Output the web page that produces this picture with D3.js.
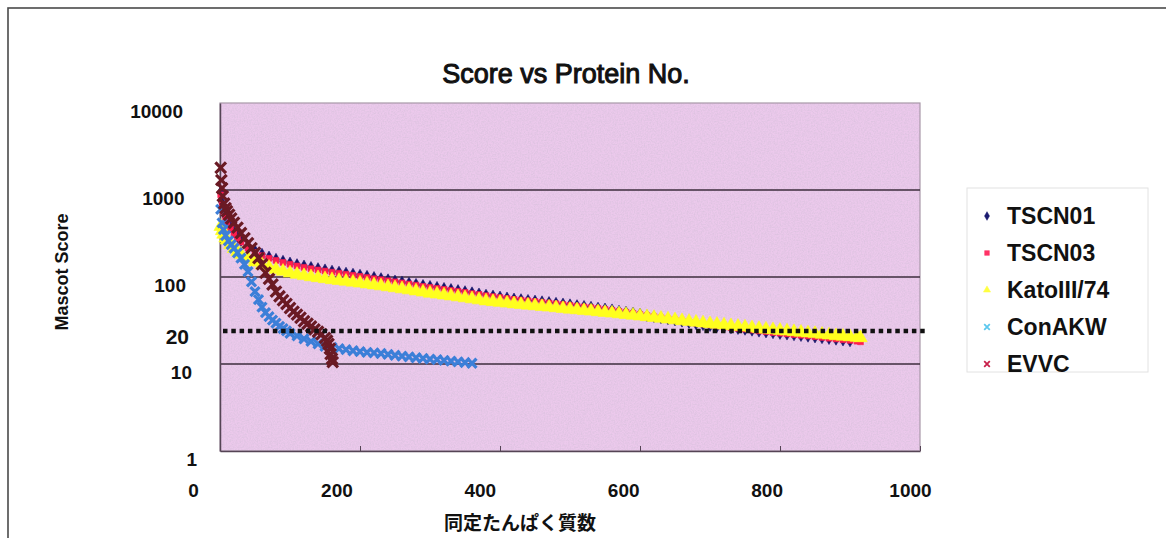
<!DOCTYPE html>
<html>
<head>
<meta charset="utf-8">
<script src="https://cdn.jsdelivr.net/npm/d3@7"></script>
<style>
  body { margin: 0; background: #fff; }
  text { font-family: "Liberation Sans", Arial, sans-serif; }
</style>
</head>
<body>
<div id="chart"></div>
<script>
// ranks shared by the three long series
const ranksLong = [1, 3, 5, 8, 10, 15, 20, 25, 30, 40, 50, 60, 70, 80, 90, 100, 110, 120, 130, 140, 150,
  160, 170, 180, 190, 200, 210, 220, 230, 240, 250, 260, 270, 280, 290, 300, 310, 320, 330, 340, 350,
  360, 370, 380, 390, 400, 410, 420, 430, 440, 450, 460, 470, 480, 490, 500, 510, 520, 530, 540, 550,
  560, 570, 580, 590, 600, 610, 620, 630, 640, 650, 660, 670, 680, 690, 700, 710, 720, 730, 740, 750,
  760, 770, 780, 790, 800, 810, 820, 830, 840, 850, 860, 870, 880, 890, 900, 910, 915];

const tscn01 = [950, 720, 600, 500, 450, 380, 330, 290, 262, 225, 200, 183, 170, 160, 152, 145, 139, 134, 129, 125, 121,
  117, 114, 111, 108, 105, 102, 99, 96, 93, 90, 87.5, 85, 82.5, 80, 78, 76, 74, 72, 70, 68,
  66, 64, 62, 60.5, 59, 57.5, 56, 55, 54, 53, 52, 51, 50, 49, 48, 47, 46, 45, 44, 43,
  42, 40.5, 39.5, 38.5, 37.5, 36, 35, 34, 33, 32, 31, 30, 29, 28.3, 27.6, 27, 26.5, 26, 25.5, 25,
  24.4, 23.8, 23.3, 22.8, 22.4, 22, 21.6, 21.2, 20.8, 20.4, 20, 19.6, 19.2, 18.8, 18.4];

const tscn03 = [880, 680, 570, 480, 430, 360, 315, 280, 252, 215, 192, 176, 164, 155, 147, 140, 134, 129, 124.5, 120.5, 117,
  113.5, 110.5, 107.5, 104.5, 101.5, 98.5, 95.5, 93, 90.5, 88, 85.5, 83, 80.5, 78, 76, 74, 72, 70, 68.5, 66.5,
  64.5, 63, 61, 59.5, 58, 56.5, 55.3, 54.2, 53.2, 52.2, 51.2, 50.2, 49.2, 48.2, 47.2, 46.2, 45.3, 44.4, 43.5, 42.5,
  41.5, 40.3, 39.3, 38.3, 37.2, 36, 35, 34, 33, 32.2, 31.3, 30.4, 29.5, 28.8, 28.1, 27.4, 26.8, 26.2, 25.7, 25.2,
  24.6, 24, 23.5, 23, 22.6, 22.2, 21.8, 21.4, 21, 20.6, 20.2, 19.8, 19.4, 19, 18.7, 18.3, 18];

const kato = [380, 340, 310, 280, 265, 235, 212, 195, 182, 162, 148, 137, 129, 122, 116, 111, 107, 103.5, 100.5, 98, 95.5,
  93, 91, 89, 87, 85, 83, 81, 79, 77, 75, 73, 71, 69, 67, 65, 63.5, 62, 60.5, 59, 57.5,
  56, 54.5, 53, 52, 51, 50, 49, 48.2, 47.4, 46.6, 45.8, 45, 44.2, 43.4, 42.6, 41.9, 41.2, 40.5, 39.8, 39.1,
  38.4, 37.7, 37, 36.3, 35.6, 34.9, 34.2, 33.5, 32.8, 32.1, 31.4, 30.8, 30.2, 29.6, 29, 28.5, 28, 27.5, 27, 26.5,
  26, 25.5, 25.1, 24.7, 24.3, 23.9, 23.5, 23.1, 22.7, 22.3, 21.9, 21.5, 21.1, 20.8, 20.5, 20.2, 20];

const ranksConAKW = [1, 3, 5, 8, 12, 16, 20, 25, 30, 35, 40, 45, 50, 55, 60, 65, 70, 75, 80, 85, 90, 95, 100,
  110, 120, 130, 140, 150, 160, 170, 180, 190, 200, 210, 220, 230, 240, 250, 260, 270, 280, 290, 300,
  310, 320, 330, 340, 350, 360];
const conAKW = [600, 420, 350, 300, 260, 235, 215, 190, 165, 140, 115, 88, 68, 55, 45, 39, 35, 32, 29.5, 27, 25.5, 24, 22.5,
  21, 19.5, 18.2, 17, 16, 15.5, 15, 14.6, 14.2, 13.9, 13.6, 13.4, 13.2, 12.9, 12.6, 12.3, 12.1, 11.8, 11.6, 11.4,
  11.2, 11, 10.8, 10.6, 10.4, 10.2];

const ranksEVVC = [1, 2, 3, 4, 6, 8, 10, 13, 16, 20, 25, 30, 35, 40, 45, 50, 55, 60, 65, 70, 75, 80, 85, 90,
  95, 100, 105, 110, 115, 120, 125, 130, 135, 140, 145, 150, 153, 155, 157, 158, 160, 161];
const evvc = [1800, 1300, 1050, 850, 700, 620, 570, 520, 470, 420, 370, 320, 280, 245, 215, 190, 165, 140, 112, 95, 82, 68, 60, 54,
  49, 44, 40, 37, 34, 31, 29, 27, 25, 23.5, 22, 20, 18.5, 17, 15, 13, 11.5, 10.5];

const seriesNames = ["TSCN01", "TSCN03", "KatoIII/74", "ConAKW", "EVVC"];
const yTicks = [1, 10, 100, 1000, 10000];
const xTicks = [0, 200, 400, 600, 800, 1000];
const cutoff = 24;        // where the dotted threshold line sits
const cutoffLabel = "20";

// styles
const styles = {
  "TSCN01":     { color: "#15156a", legend: "#1a1a70", shape: d3.symbolDiamond, size: 40 },
  "TSCN03":     { color: "#ff1f4f", legend: "#ff3366", shape: d3.symbolSquare, size: 34 },
  "KatoIII/74": { color: "#ffff1e", legend: "#ffff40", shape: d3.symbolTriangle, size: 80 },
  "ConAKW":     { color: "#3c7fd8", legend: "#5cc8ee", shape: d3.symbolX, size: 55 },
  "EVVC":       { color: "#6a1a24", legend: "#c8204a", shape: d3.symbolX, size: 75 }
};

const seriesData = [
  { name: "TSCN01", ranks: ranksLong, values: tscn01 },
  { name: "TSCN03", ranks: ranksLong, values: tscn03 },
  { name: "KatoIII/74", ranks: ranksLong, values: kato },
  { name: "ConAKW", ranks: ranksConAKW, values: conAKW },
  { name: "EVVC", ranks: ranksEVVC, values: evvc }
];

const W = 1166, H = 538;
const plot = { left: 220, right: 920, top: 103, bottom: 451 };

const svg = d3.select("#chart").append("svg")
  .attr("width", W).attr("height", H);

// grainy paper look of the scanned plot area
const defs = svg.append("defs");
const grain = defs.append("filter").attr("id", "grain").attr("x", 0).attr("y", 0).attr("width", 1).attr("height", 1);
grain.append("feTurbulence").attr("type", "fractalNoise").attr("baseFrequency", 0.7).attr("numOctaves", 2).attr("seed", 4).attr("result", "n");
grain.append("feColorMatrix").attr("in", "n").attr("type", "matrix")
  .attr("values", "0 0 0 0 0.6  0 0 0 0 0.5  0 0 0 0 0.65  0.9 0 0 0 -0.3");

// outer frame (runs off the right and bottom of the picture)
svg.append("rect")
  .attr("x", 8).attr("y", 8)
  .attr("width", W).attr("height", H)
  .attr("fill", "#fff").attr("stroke", "#4a4a4a").attr("stroke-width", 1.6);

const x = d3.scaleLinear().domain([0, 1000]).range([plot.left, plot.right]);
const y = d3.scaleLog().domain([1, 10000]).range([plot.bottom, plot.top]);

// plot background
svg.append("rect")
  .attr("x", plot.left).attr("y", plot.top)
  .attr("width", plot.right - plot.left).attr("height", plot.bottom - plot.top)
  .attr("fill", "#ecc9ec");
svg.append("rect")
  .attr("x", plot.left).attr("y", plot.top)
  .attr("width", plot.right - plot.left).attr("height", plot.bottom - plot.top)
  .attr("fill", "#fff").attr("filter", "url(#grain)");
svg.append("rect")
  .attr("x", plot.left).attr("y", plot.top)
  .attr("width", plot.right - plot.left).attr("height", plot.bottom - plot.top)
  .attr("fill", "none").attr("stroke", "#a898a8").attr("stroke-width", 1.2);

// gridlines
svg.append("g").selectAll("line")
  .data(yTicks.filter(d => d > 1 && d < 10000))
  .join("line")
  .attr("x1", plot.left).attr("x2", plot.right)
  .attr("y1", d => y(d)).attr("y2", d => y(d))
  .attr("stroke", "#3d2d3d").attr("stroke-width", 1.3);

// axes
const xAxis = svg.append("g")
  .attr("transform", `translate(0,${plot.bottom})`)
  .call(d3.axisBottom(x).tickValues(xTicks).tickSize(-5).tickSizeOuter(0).tickFormat(d3.format("d")));
xAxis.select(".domain").attr("stroke", "#554455").attr("stroke-width", 1.5);
xAxis.selectAll(".tick line").attr("stroke", "#554455");
// the scanned labels sit a little to the left of their ticks
xAxis.selectAll(".tick text")
  .attr("y", 33).attr("x", d => -27 + d * 0.017).attr("fill", "#111")
  .style("font-size", "19px").style("font-weight", "bold");

const yAxis = svg.append("g")
  .attr("transform", `translate(${plot.left},0)`)
  .call(d3.axisLeft(y).tickValues(yTicks).tickSize(0).tickSizeOuter(0).tickFormat(d3.format("d")));
yAxis.select(".domain").attr("stroke", "#554455").attr("stroke-width", 1.5);
yAxis.selectAll(".tick text")
  .attr("x", d => d === 1 ? -23 : d === 10 ? -28 : -31 - Math.log10(d) * 1.5)
  .attr("dy", "0.32em").attr("transform", "translate(0,8)")
  .attr("fill", "#111")
  .style("font-size", "19px").style("font-weight", "bold");

// data points
seriesData.forEach(s => {
  const st = styles[s.name];
  const pts = s.values.map((v, i) => [s.ranks[i], v]);
  svg.append("g").selectAll("path")
    .data(pts)
    .join("path")
    .attr("transform", d => `translate(${x(d[0])},${y(d[1])})`)
    .attr("d", d3.symbol().type(st.shape).size(st.size))
    .attr("fill", st.shape === d3.symbolX ? "none" : st.color)
    .attr("stroke", st.color)
    .attr("stroke-width", st.shape === d3.symbolX ? 3.2 : 0.6);
});

// threshold line
svg.append("line")
  .attr("x1", plot.left + 3).attr("x2", plot.right + 6)
  .attr("y1", y(cutoff)).attr("y2", y(cutoff))
  .attr("stroke", "#111").attr("stroke-width", 4.5)
  .attr("stroke-dasharray", "4.5,3.8");

svg.append("text")
  .attr("x", 189).attr("y", y(cutoff) + 6)
  .attr("text-anchor", "end").attr("dy", "0.35em")
  .style("font-size", "21px").style("font-weight", "bold").attr("fill", "#111")
  .text(cutoffLabel);

// titles
svg.append("text")
  .attr("x", 566).attr("y", 83)
  .attr("text-anchor", "middle")
  .style("font-size", "27px").attr("fill", "#111")
  .attr("stroke", "#111").attr("stroke-width", 1)
  .text("Score vs Protein No.");

svg.append("text")
  .attr("x", 62).attr("y", 272)
  .attr("transform", "rotate(-90,62,272)")
  .attr("text-anchor", "middle").attr("dy", "0.35em")
  .style("font-size", "18px").style("font-weight", "bold").attr("fill", "#111")
  .text("Mascot Score");

svg.append("text")
  .attr("x", 520).attr("y", 530)
  .attr("text-anchor", "middle")
  .style("font-family", "'Noto Sans CJK JP', sans-serif")
  .style("font-size", "19px").style("font-weight", "bold").attr("fill", "#111")
  .text("同定たんぱく質数");

// legend
const legend = svg.append("g");
legend.append("rect")
  .attr("x", 967).attr("y", 188).attr("width", 181).attr("height", 184)
  .attr("fill", "#fff").attr("stroke", "#e2e2e2").attr("stroke-width", 1);

const legendItems = legend.selectAll("g.item")
  .data(seriesNames)
  .join("g")
  .attr("class", "item")
  .attr("transform", (d, i) => `translate(987,${216 + i * 37})`);

legendItems.append("path")
  .attr("d", d => d3.symbol().type(styles[d].shape).size(22)())
  .attr("fill", d => styles[d].shape === d3.symbolX ? "none" : styles[d].legend)
  .attr("stroke", d => styles[d].legend)
  .attr("stroke-width", d => styles[d].shape === d3.symbolX ? 1.8 : 0.5);

legendItems.append("text")
  .attr("x", 20).attr("dy", "0.36em")
  .style("font-size", "23px").style("font-weight", "bold").attr("fill", "#111")
  .text(d => d);
</script>
</body>
</html>
